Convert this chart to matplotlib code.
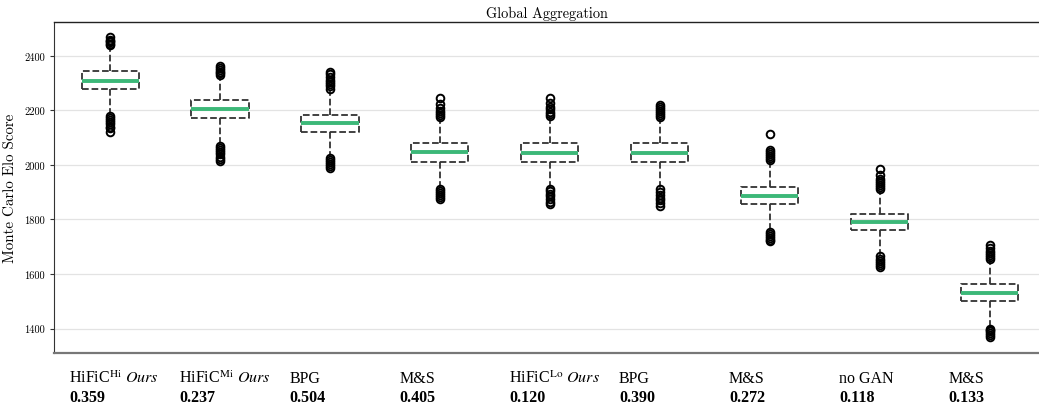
import matplotlib
matplotlib.use('Agg')
import matplotlib.pyplot as plt
import matplotlib.transforms as mtransforms

plt.rcParams['mathtext.fontset'] = 'stix'

# method names, bpp values and box statistics
names = [r'HiFiC$^{\mathrm{Hi}}$ $\mathit{Ours}$', r'HiFiC$^{\mathrm{Mi}}$ $\mathit{Ours}$', 'BPG', 'M&S',
         r'HiFiC$^{\mathrm{Lo}}$ $\mathit{Ours}$', 'BPG', 'M&S', 'no GAN', 'M&S']
bpp = ['0.359', '0.237', '0.504', '0.405', '0.120', '0.390', '0.272', '0.118', '0.133']
medians = [2308, 2204, 2153, 2047, 2045, 2045, 1885, 1790, 1532]
q1 = [2277, 2173, 2121, 2012, 2012, 2012, 1855, 1760, 1501]
q3 = [2343, 2239, 2185, 2082, 2080, 2080, 1920, 1820, 1563]
whislo = [2186, 2075, 2030, 1915, 1915, 1915, 1760, 1670, 1405]
whishi = [2437, 2325, 2275, 2170, 2175, 2170, 2015, 1905, 1650]
fliers = [
    [2440, 2445, 2450, 2455, 2460, 2471, 2121, 2135, 2140, 2150, 2158, 2165, 2172, 2178],
    [2330, 2336, 2342, 2348, 2354, 2362, 2015, 2022, 2030, 2040, 2048, 2056, 2064, 2070],
    [2280, 2288, 2296, 2304, 2312, 2322, 2332, 2340, 1990, 1996, 2004, 2010, 2018, 2025],
    [2175, 2182, 2190, 2198, 2210, 2225, 2245, 1875, 1882, 1890, 1898, 1905, 1912],
    [2180, 2188, 2196, 2204, 2214, 2228, 2245, 1855, 1865, 1875, 1885, 1895, 1903, 1910],
    [2175, 2182, 2190, 2198, 2206, 2214, 2220, 1850, 1860, 1870, 1880, 1890, 1900, 1910],
    [2020, 2026, 2032, 2040, 2048, 2055, 2115, 1720, 1726, 1732, 1740, 1748, 1755],
    [1910, 1918, 1926, 1934, 1942, 1950, 1965, 1985, 1625, 1632, 1640, 1648, 1656, 1665],
    [1655, 1662, 1670, 1678, 1686, 1696, 1705, 1368, 1375, 1382, 1390, 1396, 1400],
]

stats = []
for i in range(len(names)):
    stats.append({'med': medians[i], 'q1': q1[i], 'q3': q3[i],
                  'whislo': whislo[i], 'whishi': whishi[i], 'fliers': fliers[i]})

fig = plt.figure(figsize=(10.39, 4.06), dpi=100)
ax = fig.add_axes([0.052, 0.128, 0.948, 0.815])

positions = list(range(1, len(names) + 1))
ax.bxp(stats, positions=positions, widths=0.52, showcaps=False,
       boxprops=dict(color='#333333', linestyle='--', linewidth=1.3),
       whiskerprops=dict(color='#333333', linestyle='--', linewidth=1.3),
       medianprops=dict(color='#3cb878', linewidth=2.8),
       flierprops=dict(marker='o', markerfacecolor='none', markeredgecolor='black',
                       markersize=5.5, markeredgewidth=1.4))

ax.set_xlim(0.49, 9.45)
ax.set_ylim(1310, 2524)
ax.set_yticks([1400, 1600, 1800, 2000, 2200, 2400])
ax.set_yticklabels(['1400', '1600', '1800', '2000', '2200', '2400'], family='cmr10', fontsize=7.5)
ax.set_xticks([])
ax.yaxis.grid(True, color='#e3e3e3', linewidth=0.9)
ax.set_axisbelow(True)
ax.tick_params(axis='y', length=3, width=0.8, color='#333333')

ax.spines['right'].set_visible(False)
ax.spines['top'].set_linewidth(1.0)
ax.spines['top'].set_color('#222222')
ax.spines['left'].set_color('#333333')
ax.spines['bottom'].set_color('#777777')
ax.spines['bottom'].set_linewidth(1.6)

ax.set_title('Global Aggregation', family='cmr10', fontsize=10.3, pad=4)
ax.set_ylabel('Monte Carlo Elo Score', family='cmr10', fontsize=10.8, labelpad=5)

trans = mtransforms.blended_transform_factory(ax.transData, ax.transAxes)
for i, (n, b) in enumerate(zip(names, bpp)):
    x = positions[i] - 0.37
    ax.text(x, -0.0876, n, transform=trans, ha='left', va='baseline',
            family='Liberation Serif', fontsize=11.5)
    ax.text(x, -0.145, b, transform=trans, ha='left', va='baseline',
            family='Liberation Serif', fontsize=11.5, fontweight='bold')

fig.savefig('out.png', dpi=100)
